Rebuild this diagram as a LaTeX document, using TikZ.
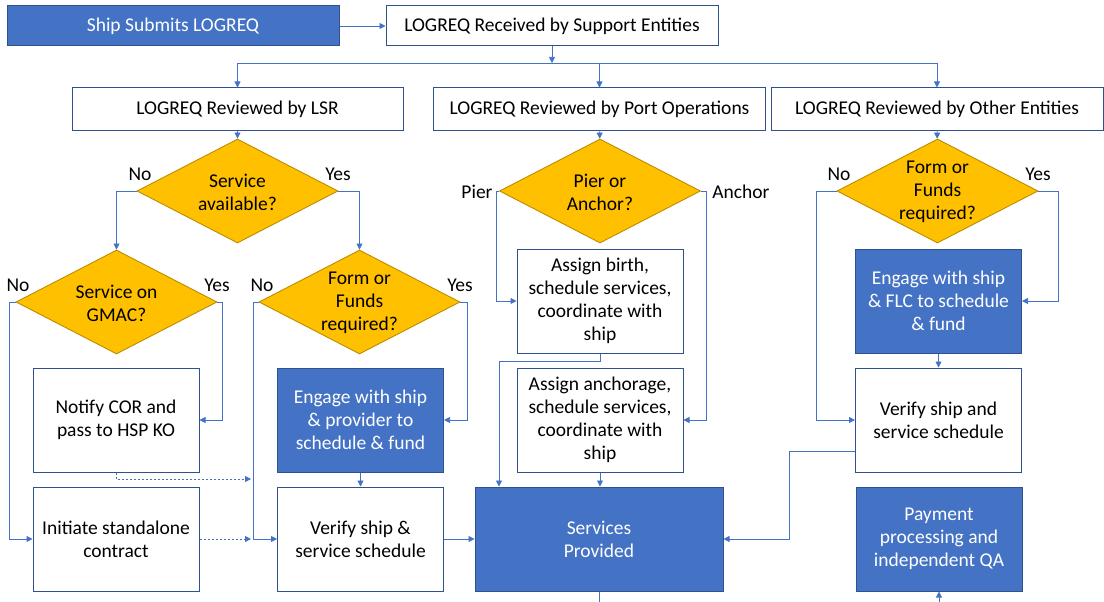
\documentclass[tikz,border=0pt]{standalone}
\usepackage{fontspec}
\setmainfont{Carlito}
\usepackage{tikz}
\usetikzlibrary{arrows.meta}
\usetikzlibrary{shapes.geometric}
\definecolor{flowblue}{RGB}{68,114,196}
\definecolor{edgeblue}{RGB}{47,82,143}
\definecolor{gold}{RGB}{255,192,0}
\definecolor{golddark}{RGB}{188,140,0}
\newcommand{\flowfont}{\fontsize{19.5}{23}\selectfont}

\begin{document}
\begin{tikzpicture}[->, >={Triangle[length=6pt,width=6pt]},
    x=1pt, y=-1pt, font=\flowfont,
    box/.style={draw=edgeblue, line width=1pt, fill=white, align=center, inner sep=3pt},
    bluebox/.style={box, fill=flowblue, text=white},
    wide/.style={minimum width=332pt, minimum height=42pt},
    tall/.style={minimum width=166pt, minimum height=104pt},
    decision/.style={diamond, aspect=1.93, draw=golddark, line width=0.9pt, fill=gold,
        inner sep=0pt, minimum width=201pt, minimum height=104pt},
    question/.style={label={[align=center, yshift=-1pt]center:#1}},
    link/.style={draw=flowblue, line width=0.75pt}]

    \useasboundingbox (0,0) rectangle (1104,602);

    \node[bluebox, wide, minimum height=40pt] (ship) at (173,26) {Ship Submits LOGREQ};
    \node[box, wide, minimum height=40pt] (received) at (552,26) {LOGREQ Received by Support Entities};
    \node[box, wide, minimum width=331pt] (lsr) at (237.5,109) {LOGREQ Reviewed by LSR};
    \node[box, wide] (portops) at (599.5,109) {LOGREQ Reviewed by Port Operations};
    \node[box, wide] (others) at (937,109) {LOGREQ Reviewed by Other Entities};

    % decisions
    \node[decision, question={Service\\available?}] (avail) at (237.5,191) {};
    \node[decision, question={Service on\\GMAC?}] (gmac) at (116.5,302) {};
    \node[decision, question={Form or\\Funds\\required?}] (formlsr) at (359.5,302) {};
    \node[decision, question={Pier or\\Anchor?}] (pier) at (600,191) {};
    \node[decision, question={Form or\\Funds\\required?}] (formoth) at (937.5,191) {};

    \node (availno) at (140,174) {No};
    \node (availyes) at (338,174) {Yes};
    \node (gmacno) at (18,285) {No};
    \node (gmacyes) at (217,285) {Yes};
    \node (formlsrno) at (262,285) {No};
    \node (formlsryes) at (460,285) {Yes};
    \node (pierlabel) at (477,192) {Pier};
    \node (anchorlabel) at (741,192) {Anchor};
    \node (formothno) at (839,174) {No};
    \node (formothyes) at (1038,174) {Yes};

    % steps
    \node[box, tall] (notify) at (116,420) {Notify COR and\\pass to HSP KO};
    \node[box, tall] (initiate) at (116,539) {Initiate standalone\\contract};
    \node[bluebox, tall] (engagelsr) at (360.5,420) {Engage with ship\\\& provider to\\schedule \& fund};
    \node[box, tall] (verifylsr) at (360.5,539) {Verify ship \&\\service schedule};
    \node[box, tall] (birth) at (600,301) {Assign birth,\\schedule services,\\coordinate with\\ship};
    \node[box, tall] (anchorage) at (600,420) {Assign anchorage,\\schedule services,\\coordinate with\\ship};
    \node[bluebox, minimum width=248pt, minimum height=104pt] (services) at (599,539) {Services\\Provided};
    \node[bluebox, tall] (engageflc) at (938.5,301) {Engage with ship\\\& FLC to schedule\\\& fund};
    \node[box, tall] (verifyoth) at (938.5,420) {Verify ship and\\service schedule};
    \node[bluebox, tall] (payment) at (939,539) {Payment\\processing and\\independent QA};

    \coordinate (fork) at (552,63);
    \coordinate (gmacturn) at (9,302);
    \coordinate (notifyturn) at (222,302);
    \coordinate (lsrnoturn) at (253,302);
    \coordinate (lsryesturn) at (467,302);
    \coordinate (notifyfoot) at (251,479);
    \coordinate (pierturn) at (496,191);
    \coordinate (anchorturn) at (706,191);
    \coordinate (birthturn) at (499,361);
    \coordinate (othnoturn) at (816,191);
    \coordinate (othyesturn) at (1058,191);
    \coordinate (verifyturn) at (789,451);
    \coordinate (servicesout) at (599,602);
    \coordinate (paymentin) at (939,602);

    % Edges
    \draw[link] (ship) -- (received);
    \draw[link] (received) -- (fork);
    \draw[link, -] (lsr |- fork) -- (others |- fork);
    \draw[link] (lsr |- fork) -- (lsr);
    \draw[link] (portops |- fork) -- (portops);
    \draw[link] (others |- fork) -- (others);
    \draw[link] (lsr) -- (avail);
    \draw[link] (portops) -- (pier);
    \draw[link] (others) -- (formoth);

    \draw[link] (avail.west) -| (gmac.north);
    \draw[link] (avail.east) -| (formlsr.north);
    \draw[link] (gmac.west) -- (gmacturn) |- (initiate.west);
    \draw[link] (gmac.east) -- (notifyturn) |- (notify.east);
    \draw[link] (formlsr.west) -- (lsrnoturn) |- (verifylsr.west);
    \draw[link] (formlsr.east) -- (lsryesturn) |- (engagelsr.east);
    \draw[link, dash pattern=on 2pt off 2pt] (notify.south) |- (notifyfoot);
    \draw[link, dash pattern=on 2pt off 2pt] (initiate.east) -- (initiate.east -| notifyfoot);
    \draw[link] (engagelsr) -- (verifylsr);
    \draw[link] (verifylsr) -- (services);

    \draw[link] (pier.west) -- (pierturn) |- (birth.west);
    \draw[link] (pier.east) -- (anchorturn) |- (anchorage.east);
    \draw[link] (birth.south) |- (birthturn) -- (birthturn |- services.north);
    \draw[link] (anchorage.south) -- (anchorage.south |- services.north);
    \draw[link, -] (services) -- (servicesout);

    \draw[link] (formoth.west) -- (othnoturn) |- (verifyoth.west);
    \draw[link] (formoth.east) -- (othyesturn) |- (engageflc.east);
    \draw[link] (engageflc) -- (verifyoth);
    \draw[link] (verifyturn -| verifyoth.west) -- (verifyturn) |- (services.east);
    \draw[link] (paymentin) -- (payment);

\end{tikzpicture}
\end{document}
